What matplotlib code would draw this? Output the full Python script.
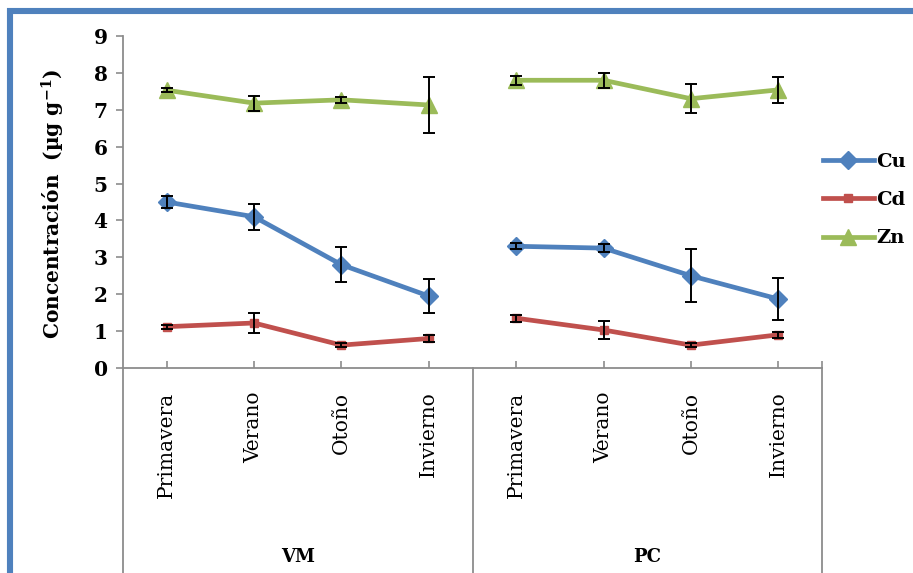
import matplotlib
matplotlib.use("Agg")
import matplotlib.pyplot as plt
from matplotlib.lines import Line2D
import numpy as np

# Seasons sampled at each site
seasons = ["Primavera", "Verano", "Otoño", "Invierno"]
sites = ["VM", "PC"]

# Mean concentrations (µg g-1) and error bar half-widths, per site
cu_vm = [4.50, 4.10, 2.80, 1.95]
cu_vm_err = [0.17, 0.35, 0.48, 0.46]
cu_pc = [3.30, 3.25, 2.50, 1.87]
cu_pc_err = [0.08, 0.10, 0.72, 0.56]

cd_vm = [1.12, 1.22, 0.62, 0.80]
cd_vm_err = [0.05, 0.26, 0.05, 0.10]
cd_pc = [1.35, 1.03, 0.62, 0.90]
cd_pc_err = [0.10, 0.24, 0.05, 0.08]

zn_vm = [7.53, 7.18, 7.27, 7.13]
zn_vm_err = [0.05, 0.20, 0.08, 0.75]
zn_pc = [7.80, 7.80, 7.30, 7.54]
zn_pc_err = [0.12, 0.20, 0.40, 0.35]

series = [
    ("Cu", [cu_vm, cu_pc], [cu_vm_err, cu_pc_err], "#4F81BD", "D", 9),
    ("Cd", [cd_vm, cd_pc], [cd_vm_err, cd_pc_err], "#C0504D", "s", 6),
    ("Zn", [zn_vm, zn_pc], [zn_vm_err, zn_pc_err], "#9BBB59", "^", 12),
]

plt.rcParams["font.family"] = ["DejaVu Serif"]
plt.rcParams["mathtext.fontset"] = "dejavuserif"

W, H = 913, 573
fig = plt.figure(figsize=(W / 100, H / 100), dpi=100)
fig.patch.set_facecolor("white")

ax = fig.add_axes([123 / W, 1 - 368 / H, (822 - 123) / W, (368 - 36) / H])

n = len(seasons)
axis_grey = "#8C8C8C"

for name, vals, errs, color, marker, ms in series:
    for g, (v, e) in enumerate(zip(vals, errs)):
        x = np.arange(n) + 0.5 + g * n
        ax.plot(x, v, color=color, lw=3.4, marker=marker, ms=ms,
                mec=color, mfc=color, zorder=3,
                label=name if g == 0 else None)
        ax.errorbar(x, v, yerr=e, fmt="none", ecolor="black",
                    elinewidth=1.4, capsize=4, capthick=1.4, zorder=4)

ax.set_xlim(0, n * len(sites))
ax.set_ylim(0, 9)
ax.set_yticks(range(0, 10))
ax.tick_params(axis="y", direction="out", length=5, width=1.2,
               color=axis_grey, labelsize=14.5, pad=6)
for lab in ax.get_yticklabels():
    lab.set_fontweight("bold")

xt = np.arange(n * len(sites)) + 0.5
ax.set_xticks(xt)
ax.set_xticklabels(seasons * len(sites), rotation=90, fontsize=14.5)
ax.tick_params(axis="x", direction="in", length=5, width=1.2,
               color=axis_grey, pad=17)
ax.set_xticks([n * len(sites)], minor=True)
ax.tick_params(axis="x", which="minor", direction="in", length=5,
               width=1.2, color=axis_grey)

for s in ["top", "right"]:
    ax.spines[s].set_visible(False)
for s in ["left", "bottom"]:
    ax.spines[s].set_color(axis_grey)
    ax.spines[s].set_linewidth(1.3)

# Group separators below the category axis
trans = ax.get_xaxis_transform()
for xb in range(0, n * len(sites) + 1, n):
    ax.plot([xb, xb], [0, -0.7], transform=trans, color=axis_grey,
            lw=1.3, clip_on=False)

# Site names under each group
for g, site in enumerate(sites):
    ax.text(g * n + n / 2, -(557 - 368) / (368 - 36), site,
            transform=trans, ha="center", va="center",
            fontsize=13, fontweight="bold")

ax.set_ylabel("Concentración  (µg g$^{\\mathbf{-1}}$)", fontsize=14.5,
              fontweight="bold")
ax.yaxis.set_label_coords(-(123 - 67) / (822 - 123), (368 - 204) / (368 - 36))

leg = ax.legend(loc="center left", bbox_to_anchor=(823 / W, 1 - 200 / H),
                bbox_transform=fig.transFigure, frameon=False,
                fontsize=14, handlelength=2.6, handletextpad=0.15,
                labelspacing=1.05, borderaxespad=0, borderpad=0)
for t in leg.get_texts():
    t.set_fontweight("bold")

# Blue frame along the top and left edges
fig.add_artist(Line2D([10 / W, 10 / W], [0, 1 - 8 / H], transform=fig.transFigure,
                      color="#4F81BD", lw=4.4, solid_capstyle="butt"))
fig.add_artist(Line2D([7 / W, 1], [1 - 11 / H, 1 - 11 / H], transform=fig.transFigure,
                      color="#4F81BD", lw=4.4, solid_capstyle="butt"))

fig.savefig("out.png", dpi=100)
